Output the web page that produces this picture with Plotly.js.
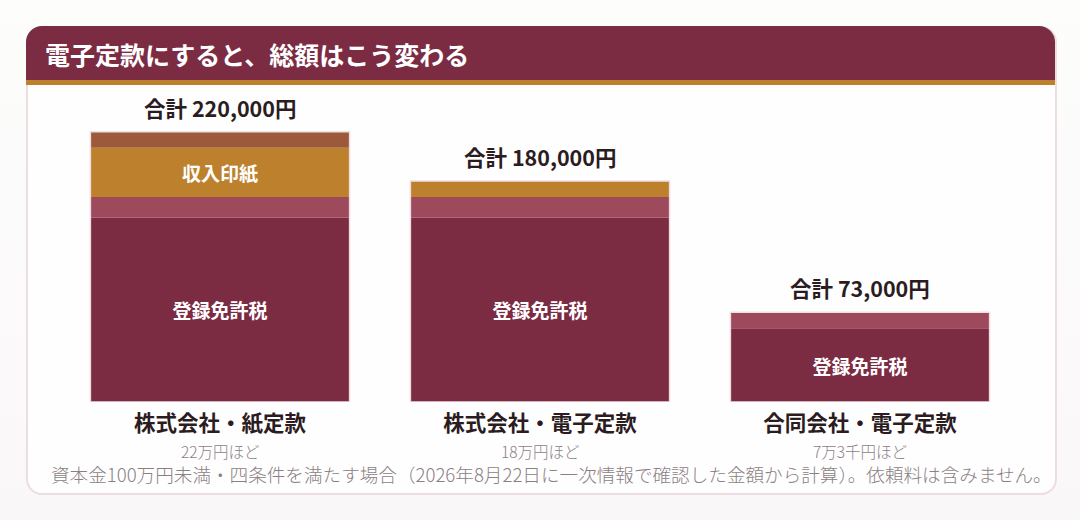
<!DOCTYPE html>
<html>
<head>
<meta charset="utf-8">
<script src="https://cdn.plot.ly/plotly-3.0.1.min.js"></script>
<style>
  html, body { margin:0; padding:0; }
  body { width:1080px; height:520px; position:relative; overflow:hidden;
         background: linear-gradient(180deg, #fdfdfc 0%, #faf7f8 100%);
         font-family: "Noto Sans CJK JP", "Noto Sans", sans-serif; }
  #card { position:absolute; left:26px; top:26px; width:1027px; height:465px;
          background:#fefefe; border:2px solid #ecdde1; border-radius:16px; box-sizing:content-box; }
  #band { position:absolute; left:26px; top:26px; width:1029px; height:54px;
          background:#7b2c43; border-bottom:5px solid #bd812e; border-radius:16px 16px 0 0; }
  #chart { position:absolute; left:0; top:0; width:1080px; height:520px; }
</style>
</head>
<body>
<div id="card"></div>
<div id="band"></div>
<div id="chart"></div>
<script>
// ---- data ----
const categories = ['株式会社・紙定款', '株式会社・電子定款', '合同会社・電子定款'];
const subLabels = ['22万円ほど', '18万円ほど', '7万3千円ほど'];
// stacked layers from bottom to top
const layerTax    = [150000, 150000, 60000];   // 登録免許税
const layerFee    = [17000, 17000, 13000];     // 手数料など
const layerMid    = [40000, 13000, 0];         // 収入印紙 など
const layerTop    = [13000, 0, 0];             // その他
const taxLabels   = ['登録免許税', '登録免許税', '登録免許税'];
const midLabels   = ['収入印紙', '', ''];
const titleText = '電子定款にすると、総額はこう変わる';
const footnote = '資本金100万円未満・四条件を満たす場合（2026年8月22日に一次情報で確認した金額から計算）。依頼料は含みません。';

// ---- build ----
const layers = [layerTax, layerFee, layerMid, layerTop];
const colors = ['#7b2c43', '#9e4a5c', '#bd812e', '#9c5a3a'];
const texts = [taxLabels, null, midLabels, null];
const FONT = '"Noto Sans CJK JP", "Noto Sans", sans-serif';

const base = categories.map(() => 0);
const traces = [];
layers.forEach((vals, i) => {
  traces.push({
    type: 'bar', x: categories, y: vals, base: base.slice(),
    width: 0.81,
    marker: { color: colors[i], line: { width: 0 } },
    text: texts[i] || undefined,
    textposition: texts[i] ? 'inside' : 'none',
    insidetextanchor: 'middle',
    constraintext: 'none',
    textfont: { family: FONT, size: 19, color: '#ffffff', weight: 700 },
    hoverinfo: 'skip', showlegend: false
  });
  vals.forEach((v, j) => { base[j] += v; });
});
const totals = base.slice();
traces.push({
  type: 'bar', x: categories, y: totals, base: categories.map(() => 0),
  width: 0.81,
  marker: { color: 'rgba(0,0,0,0)', line: { color: '#efdfe3', width: 1.5 } },
  hoverinfo: 'skip', showlegend: false
});

const annotations = [];
categories.forEach((c, j) => {
  annotations.push({
    x: c, y: totals[j], xref: 'x', yref: 'y', yanchor: 'bottom', yshift: 7,
    text: '合計 ' + totals[j].toLocaleString('en-US') + '円', showarrow: false,
    font: { family: FONT, size: 21.5, color: '#2b1c22', weight: 700 }
  });
  annotations.push({
    x: c, y: 0, xref: 'x', yref: 'y', yanchor: 'middle', yshift: -49, borderpad: 0,
    text: subLabels[j], showarrow: false,
    font: { family: FONT, size: 15.5, color: '#8c7f84', weight: 300 }
  });
});
annotations.push({
  x: 0.5115, y: 0, xref: 'paper', yref: 'paper', xanchor: 'center', yanchor: 'middle', yshift: -71, borderpad: 0,
  text: footnote, showarrow: false,
  font: { family: FONT, size: 18.6, color: '#8c7f84', weight: 300 }
});

const layout = {
  width: 1080, height: 520,
  margin: { l: 60, r: 60, t: 95, b: 118 },
  paper_bgcolor: 'rgba(0,0,0,0)', plot_bgcolor: 'rgba(0,0,0,0)',
  barmode: 'overlay',
  title: { text: titleText, x: 45 / 1080, xanchor: 'left', xref: 'container',
           y: 1 - 56 / 520, yanchor: 'middle', yref: 'container',
           font: { family: FONT, size: 25, color: '#ffffff', weight: 700 } },
  xaxis: { type: 'category', range: [-0.5, 2.5], showgrid: false, zeroline: false, showline: false,
           ticks: '', ticklabelstandoff: 6,
           tickfont: { family: FONT, size: 21.5, color: '#2b1c22', weight: 700 } },
  yaxis: { range: [0, 250000], visible: false, showgrid: false, zeroline: false },
  annotations: annotations,
  font: { family: FONT }
};
Plotly.newPlot('chart', traces, layout, { displayModeBar: false, staticPlot: true });
</script>
</body>
</html>
